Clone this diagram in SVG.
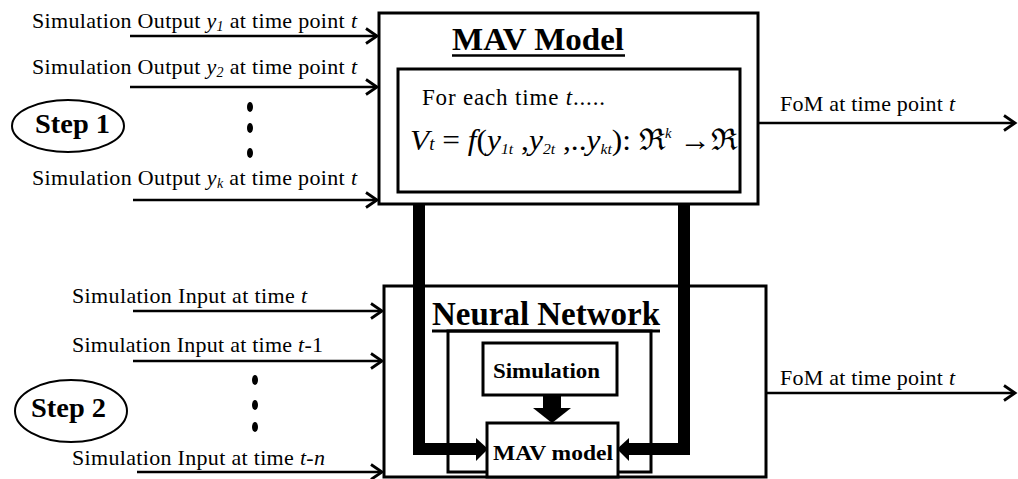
<svg xmlns="http://www.w3.org/2000/svg" width="1018" height="479" viewBox="0 0 1018 479">
<style>
text{font-family:"Liberation Serif","Times New Roman",serif;fill:#000}
.lbl{font-size:22px}
.b{font-weight:bold}
.box{fill:#fff;stroke:#000;stroke-width:3}
.thin{fill:none;stroke:#000;stroke-width:2.5}
.thick{fill:none;stroke:#000;stroke-width:12;stroke-linejoin:miter}
.it{font-style:italic}
</style>
<defs>
<marker id="open" markerUnits="userSpaceOnUse" markerWidth="18" markerHeight="20" refX="13" refY="9" orient="auto" viewBox="0 0 18 20">
<path d="M2,1.5 L13,9 L2,16.5" fill="none" stroke="#000" stroke-width="2.8"/>
</marker>
</defs>

<g id="step1">
<ellipse cx="68" cy="126" rx="56" ry="26" fill="none" stroke="#000" stroke-width="2"/>
<text x="35" y="133" class="b" font-size="27" textLength="75" lengthAdjust="spacingAndGlyphs">Step 1</text>
</g>
<g id="step2">
<ellipse cx="71" cy="411" rx="56" ry="31" fill="none" stroke="#000" stroke-width="2"/>
<text x="31" y="417" class="b" font-size="27" textLength="75" lengthAdjust="spacingAndGlyphs">Step 2</text>
</g>

<g id="mav-model">
<rect x="379" y="13" width="379" height="191" class="box"/>
<text x="452" y="50" class="b" font-size="32" textLength="172" lengthAdjust="spacingAndGlyphs">MAV Model</text>
<line x1="452" y1="55.5" x2="625" y2="55.5" stroke="#000" stroke-width="2.5"/>
<rect x="398" y="69" width="342" height="123" class="box"/>
<text x="422" y="105" font-size="23" textLength="183">For each time <tspan class="it">t</tspan>.....</text>
<text x="410" y="150" font-size="30" class="it" textLength="327" lengthAdjust="spacingAndGlyphs">V<tspan font-size="18">t</tspan><tspan font-style="normal"> = </tspan>f<tspan font-style="normal">(</tspan>y<tspan font-size="15" dy="4">1t</tspan><tspan dy="-4" font-style="normal"> ,</tspan>y<tspan font-size="15" dy="4">2t</tspan><tspan dy="-4" font-style="normal"> ,..</tspan>y<tspan font-size="15" dy="4">kt</tspan><tspan dy="-4" font-style="normal">): ℜ</tspan><tspan font-size="14" dy="-12">k</tspan><tspan dy="12" font-style="normal"> →ℜ</tspan></text>
</g>

<g id="neural-network">
<rect x="384" y="286" width="382" height="191" class="box" stroke-width="2.5"/>
<rect x="448" y="331" width="203" height="141" class="box" stroke-width="2.5"/>
<text x="432" y="325" class="b" font-size="33" textLength="228" lengthAdjust="spacingAndGlyphs">Neural Network</text>
<line x1="432" y1="331" x2="660" y2="331" stroke="#000" stroke-width="3"/>
</g>

<g id="simulation">
<rect x="483" y="343" width="134" height="52" class="box" stroke-width="2.5"/>
<text x="493" y="378" class="b lbl" textLength="107" lengthAdjust="spacingAndGlyphs">Simulation</text>
</g>

<g id="mav-model-small">
<rect x="487" y="423" width="131" height="54" class="box" stroke-width="2.5"/>
<text x="493" y="460" class="b" font-size="22" textLength="120" lengthAdjust="spacingAndGlyphs">MAV model</text>
</g>

<g id="labels">
<text x="32" y="28" class="lbl" textLength="325">Simulation Output <tspan class="it">y</tspan><tspan class="it" font-size="14" dy="3">1</tspan><tspan dy="-3"> at time point </tspan><tspan class="it">t</tspan></text>
<text x="32" y="74" class="lbl" textLength="325">Simulation Output <tspan class="it">y</tspan><tspan class="it" font-size="14" dy="3">2</tspan><tspan dy="-3"> at time point </tspan><tspan class="it">t</tspan></text>
<text x="32" y="185" class="lbl" textLength="325">Simulation Output <tspan class="it">y</tspan><tspan class="it" font-size="14" dy="3">k</tspan><tspan dy="-3"> at time point </tspan><tspan class="it">t</tspan></text>
<text x="72" y="303" class="lbl" textLength="235">Simulation Input at time <tspan class="it">t</tspan></text>
<text x="72" y="352" class="lbl" textLength="251">Simulation Input at time <tspan class="it">t</tspan>-1</text>
<text x="72" y="465" class="lbl" textLength="253">Simulation Input at time <tspan class="it">t</tspan>-<tspan class="it">n</tspan></text>
<text x="780" y="111" class="lbl" textLength="175">FoM at time point <tspan class="it">t</tspan></text>
<text x="780" y="385" class="lbl" textLength="175">FoM at time point <tspan class="it">t</tspan></text>
<g id="dots">
<ellipse cx="250" cy="107" rx="3" ry="5"/>
<ellipse cx="250" cy="128" rx="3" ry="5"/>
<ellipse cx="250" cy="153" rx="3" ry="5"/>
<ellipse cx="255" cy="380" rx="3" ry="5"/>
<ellipse cx="255" cy="405" rx="3" ry="5"/>
<ellipse cx="255" cy="427" rx="3" ry="5"/>
</g>
</g>

<g id="connectors">
<line x1="130" y1="36" x2="377" y2="36" class="thin" marker-end="url(#open)"/>
<line x1="130" y1="87" x2="377" y2="87" class="thin" marker-end="url(#open)"/>
<line x1="133" y1="200" x2="377" y2="200" class="thin" marker-end="url(#open)"/>
<line x1="133" y1="311" x2="382" y2="311" class="thin" marker-end="url(#open)"/>
<line x1="133" y1="361" x2="382" y2="361" class="thin" marker-end="url(#open)"/>
<line x1="137" y1="472" x2="382" y2="472" class="thin" marker-end="url(#open)"/>
<line x1="758" y1="123" x2="1015" y2="123" class="thin" marker-end="url(#open)"/>
<line x1="766" y1="393" x2="1015" y2="393" class="thin" marker-end="url(#open)"/>
<path d="M419,205 V449 H477" class="thick"/>
<polygon points="476,438 488,449 476,461"/>
<path d="M684,205 V449 H628" class="thick"/>
<polygon points="629,438 617,449 629,461"/>
<rect x="543" y="395" width="18" height="14"/>
<polygon points="533,408 571,408 552,423"/>
</g>
</svg>
